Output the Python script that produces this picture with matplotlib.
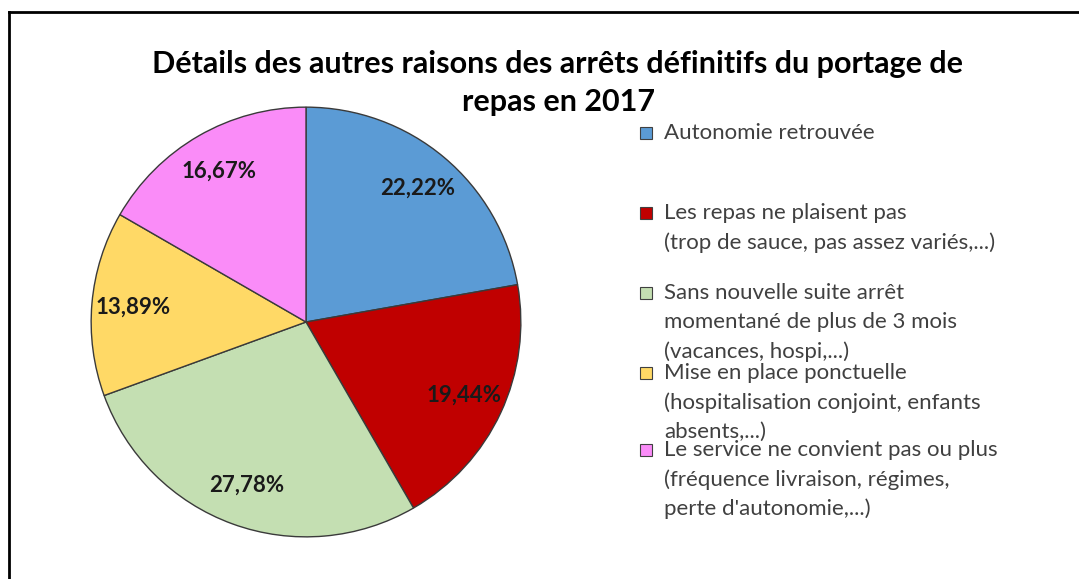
import matplotlib
matplotlib.use("Agg")
import matplotlib.pyplot as plt
from matplotlib.patches import Rectangle
from matplotlib.lines import Line2D

title = "Détails des autres raisons des arrêts définitifs du portage de\nrepas en 2017"
categories = [
    "Autonomie retrouvée",
    "Les repas ne plaisent pas\n(trop de sauce, pas assez variés,...)",
    "Sans nouvelle suite arrêt\nmomentané de plus de 3 mois\n(vacances, hospi,...)",
    "Mise en place ponctuelle\n(hospitalisation conjoint, enfants\nabsents,...)",
    "Le service ne convient pas ou plus\n(fréquence livraison, régimes,\nperte d'autonomie,...)",
]
values = [22.22, 19.44, 27.78, 13.89, 16.67]
colors = ["#5B9BD5", "#C00000", "#C4DFB2", "#FFD966", "#FA8CF8"]

W, H = 1079, 579
fig = plt.figure(figsize=(W / 100, H / 100), dpi=100)
fig.patch.set_facecolor("white")

# frame lines (left and top)
fig.add_artist(Line2D([9 / W, 9 / W], [0, 1 - 12 / H], transform=fig.transFigure, color="black", lw=2))
fig.add_artist(Line2D([9 / W, 1], [1 - 12 / H, 1 - 12 / H], transform=fig.transFigure, color="black", lw=2))

cx, cy, r = 306, 322, 217
ax = fig.add_axes([(cx - r) / W, 1 - (cy + r) / H, 2 * r / W, 2 * r / H])
wedges, texts, autotexts = ax.pie(
    values,
    colors=colors,
    startangle=90,
    counterclock=False,
    autopct=lambda p: f"{p:.2f}%".replace(".", ","),
    pctdistance=0.81,
    wedgeprops=dict(edgecolor="#3a3a3a", linewidth=1.0),
    textprops=dict(fontfamily="Lato", fontweight="bold", fontsize=16, color="#1a1a1a"),
    radius=1.0,
)
ax.set_xlim(-1.01, 1.01)
ax.set_ylim(-1.01, 1.01)
ax.set_aspect("equal")
ax.axis("off")

fig.text(558 / W, 1 - 83 / H, title, ha="center", va="center", fontfamily="Lato",
         fontweight="bold", fontsize=22, color="black", linespacing=1.45)

# legend
first_line_y = [133, 213, 293, 373, 450]
line_gap = 29.5
for lab, col, y in zip(categories, colors, first_line_y):
    s = 12
    fig.add_artist(Rectangle(((646 - s / 2) / W, 1 - (y + s / 2) / H), s / W, s / H,
                             transform=fig.transFigure, facecolor=col, edgecolor="#404040", lw=0.8))
    for i, line in enumerate(lab.split("\n")):
        fig.text(664 / W, 1 - (y + i * line_gap) / H, line, ha="left", va="center",
                 fontfamily="Lato", fontsize=16, color="#404040")

fig.savefig("out.png", dpi=100)
